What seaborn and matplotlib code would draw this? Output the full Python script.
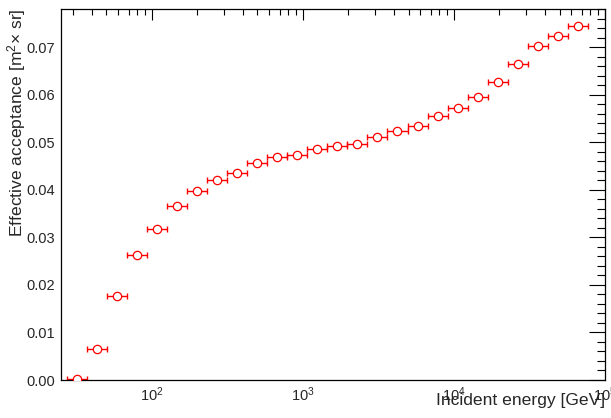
import numpy as np
import pandas as pd
import matplotlib
matplotlib.use("Agg")
import matplotlib.pyplot as plt
from matplotlib.ticker import LogLocator, MultipleLocator, NullFormatter
import seaborn as sns

# incident energy bin centres [GeV] (log-spaced bins)
energy = [31.8, 43.1, 58.6, 79.5, 108, 147, 199, 270, 367, 498, 675, 916,
          1245, 1690, 2291, 3112, 4227, 5741, 7783, 10570, 14350, 19500,
          26420, 35890, 48750, 66220]
# effective acceptance [m^2 sr]
acceptance = [0.0002, 0.0065, 0.0177, 0.0263, 0.0317, 0.0366, 0.0398, 0.0421,
              0.0436, 0.0456, 0.0468, 0.0472, 0.0485, 0.0491, 0.0496, 0.0510,
              0.0524, 0.0534, 0.0554, 0.0571, 0.0595, 0.0626, 0.0665, 0.0703,
              0.0724, 0.0744]

df_acc = pd.DataFrame({"energy": energy, "acceptance": acceptance})

sns.set_style("white")
plt.rcParams['font.family'] = ['Liberation Sans', 'DejaVu Sans']
plt.rcParams['mathtext.fontset'] = 'custom'
plt.rcParams['mathtext.rm'] = 'Liberation Sans'
plt.rcParams['mathtext.it'] = 'Liberation Sans:italic'
plt.rcParams['mathtext.bf'] = 'Liberation Sans:bold'

fig = plt.figure(figsize=(6.11, 4.18), dpi=100)
ax = fig.add_axes([61 / 611, 1 - 380 / 418, 544 / 611, 371 / 418])

# half bin width in log space
half = 10 ** 0.0664
e = np.array(energy)
xerr = [e - e / half, e * half - e]

ax.errorbar(e, acceptance, xerr=xerr, fmt='none', ecolor='#ff0000',
            elinewidth=1.0, capsize=2.5, capthick=1.0, zorder=2)
sns.scatterplot(data=df_acc, x='energy', y='acceptance', ax=ax, marker='o',
                s=36, facecolor='white', edgecolor='#ff0000', linewidth=0.9,
                zorder=3)

ax.set_xscale('log')
ax.set_xlim(25, 1.0e5)
ax.set_ylim(0, 0.078)

ax.xaxis.set_major_locator(LogLocator(base=10, numticks=10))
ax.xaxis.set_minor_locator(LogLocator(base=10, subs=np.arange(2, 10), numticks=20))
ax.xaxis.set_minor_formatter(NullFormatter())
ax.yaxis.set_major_locator(MultipleLocator(0.01))
ax.yaxis.set_minor_locator(MultipleLocator(0.002))
ax.yaxis.set_major_formatter(plt.FuncFormatter(lambda v, _: f'{v:.2f}'))

ax.tick_params(which='both', direction='in', top=True, right=True,
               color='black', width=0.8)
ax.tick_params(axis='x', which='major', length=8, labelsize=10.5, pad=4)
ax.tick_params(axis='x', which='minor', length=4.3)
ax.tick_params(axis='y', which='major', length=11.5, labelsize=10.5, pad=4)
ax.tick_params(axis='y', which='minor', length=5.8)

for sp in ax.spines.values():
    sp.set_color('black')
    sp.set_linewidth(0.9)

ax.set_xlabel('Incident energy [GeV]', fontsize=12.6, loc='right')
ax.xaxis.set_label_coords(1.0, -0.036)
ax.set_ylabel('Effective acceptance [m$^{2}$× sr]', fontsize=12.6, loc='top')
ax.yaxis.set_label_coords(-0.061, 1.0)

plt.savefig('out.png', dpi=100)
